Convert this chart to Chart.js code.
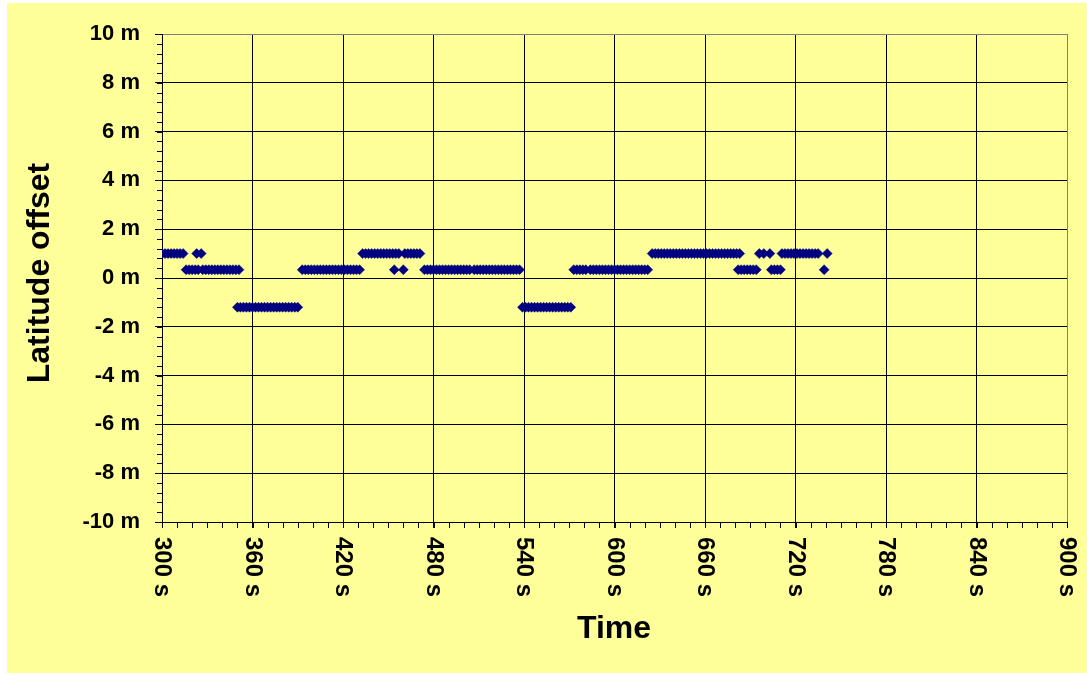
<!DOCTYPE html>
<html>
<head>
<meta charset="utf-8">
<script src="https://cdn.jsdelivr.net/npm/chart.js@4.4.1/dist/chart.umd.min.js"></script>
<style>
  body { margin: 0; background: #fff; }
  canvas { display: block; }
</style>
</head>
<body>
<canvas id="chart" width="1087" height="673"></canvas>
<script>
// offset levels (m)
var levelHigh = 1.0
var levelMid = 0.34
var levelLow = -1.2

// time stamps (s) at each level
var highTimes = [300, 302, 304, 306, 308, 310, 312, 314,
    323, 326,
    433, 435, 437, 439, 441, 443, 445, 447, 449, 451, 453, 455, 457, 461, 463, 465, 467, 469, 471,
    625, 627, 629, 631, 633, 635, 637, 639, 641, 643, 645, 647, 649, 651, 653, 655, 657, 659, 661,
    663, 665, 667, 669, 671, 673, 675, 677, 679, 681, 683,
    696, 699, 703,
    711, 713, 715, 717, 719, 721, 723, 725, 727, 729, 731, 733, 735,
    741]
var midTimes = [316, 318, 320, 322, 324, 327, 329, 331, 333, 335, 337, 339, 341, 343, 345, 347, 349, 351,
    393, 395, 397, 399, 401, 403, 405, 407, 409, 411, 413, 415, 417, 419, 421, 423, 425, 427, 429, 431,
    454, 460,
    474, 476, 478, 480, 482, 484, 486, 488, 490, 492, 494, 496, 498, 500, 502, 504,
    507, 509, 511, 513, 515, 517, 519, 521, 523, 525, 527, 529, 531, 533, 535, 537,
    573, 575, 577, 579, 581, 584, 586, 588, 590, 592, 594, 596, 598, 600, 602, 604, 606, 608, 610,
    612, 614, 616, 618, 620, 622,
    682, 684, 686, 688, 690, 692, 694,
    704, 706, 708, 710,
    739]
var lowTimes = [350, 352, 354, 356, 358, 360, 362, 364, 366, 368, 370, 372, 374, 376, 378, 380, 382, 384, 386, 388, 390,
    539, 541, 543, 545, 547, 549, 551, 553, 555, 557, 559, 561, 563, 565, 567, 569, 571]

// axes
var xTicks = [300, 360, 420, 480, 540, 600, 660, 720, 780, 840, 900]
var yTicks = [-10, -8, -6, -4, -2, 0, 2, 4, 6, 8, 10]

var points = []
highTimes.forEach(function(t){ points.push({x: t, y: levelHigh}) })
midTimes.forEach(function(t){ points.push({x: t, y: levelMid}) })
lowTimes.forEach(function(t){ points.push({x: t, y: levelLow}) })
points.sort(function(a, b){ return a.x - b.x })

var FONT = "'Liberation Sans', Arial, sans-serif"

// background, titles, rotated x labels and minor ticks
var decor = {
    id: "decor",
    beforeDraw: function(chart){
        var ctx = chart.ctx
        ctx.save()
        ctx.fillStyle = "#ffffff"
        ctx.fillRect(0, 0, chart.width, chart.height)
        ctx.fillStyle = "#ffff99"
        ctx.fillRect(7, 3, chart.width - 7, chart.height - 3)
        ctx.restore()
    },
    afterDraw: function(chart){
        var ctx = chart.ctx
        var xs = chart.scales.x, ys = chart.scales.y
        ctx.save()
        ctx.strokeStyle = "#000"
        ctx.lineWidth = 1
        ctx.beginPath()
        for (var v = -10; v <= 10.001; v += 0.4) {
            var py = Math.round(ys.getPixelForValue(v)) + 0.5
            ctx.moveTo(xs.left - 5, py)
            ctx.lineTo(xs.left, py)
        }
        for (var t = 300; t <= 900; t += 10) {
            var px = Math.round(xs.getPixelForValue(t)) + 0.5
            ctx.moveTo(px, ys.bottom)
            ctx.lineTo(px, ys.bottom + 6)
        }
        ctx.stroke()

        ctx.fillStyle = "#000"
        ctx.font = "bold 24px " + FONT
        ctx.textAlign = "left"
        ctx.textBaseline = "middle"
        xTicks.forEach(function(t){
            ctx.save()
            ctx.translate(xs.getPixelForValue(t), ys.bottom + 15)
            ctx.rotate(Math.PI / 2)
            ctx.fillText(t + " s", 0, 0)
            ctx.restore()
        })

        ctx.font = "bold 32px " + FONT
        ctx.textAlign = "center"
        ctx.fillText("Time", 614, 629)
        ctx.save()
        ctx.translate(40, 273)
        ctx.rotate(-Math.PI / 2)
        ctx.fillText("Latitude offset", 0, 0)
        ctx.restore()
        ctx.restore()
    }
}

new Chart(document.getElementById("chart"), {
    type: "scatter",
    data: {
        datasets: [{
            data: points,
            pointStyle: "rectRot",
            pointRadius: 5,
            pointBorderWidth: 0.5,
            backgroundColor: "#000080",
            borderColor: "#000080"
        }]
    },
    options: {
        responsive: false,
        animation: false,
        events: [],
        layout: { padding: { top: 34, right: 20, left: 0, bottom: 0 } },
        plugins: { legend: { display: false }, tooltip: { enabled: false } },
        scales: {
            x: {
                type: "linear",
                min: 300, max: 900,
                afterBuildTicks: function(scale){
                    scale.ticks = xTicks.map(function(v){ return {value: v} })
                },
                afterFit: function(scale){ scale.height = 151 },
                ticks: { display: false },
                grid: {
                    color: function(c){ return c.tick && c.tick.value === 900 ? "#808080" : "#000" },
                    lineWidth: 1,
                    tickLength: 6,
                    tickColor: "#000"
                },
                border: { color: "#000", width: 1 }
            },
            y: {
                min: -10, max: 10,
                afterBuildTicks: function(scale){
                    scale.ticks = yTicks.map(function(v){ return {value: v} })
                },
                afterFit: function(scale){ scale.width = 162 },
                ticks: {
                    color: "#000",
                    padding: 15,
                    font: { family: FONT, size: 22, weight: "bold" },
                    callback: function(v){ return v + " m" }
                },
                grid: {
                    color: function(c){ return c.tick && c.tick.value === 10 ? "#808080" : "#000" },
                    lineWidth: 1,
                    tickLength: 7,
                    tickColor: "#000"
                },
                border: { color: "#000", width: 1 }
            }
        }
    },
    plugins: [decor]
})
</script>
</body>
</html>
